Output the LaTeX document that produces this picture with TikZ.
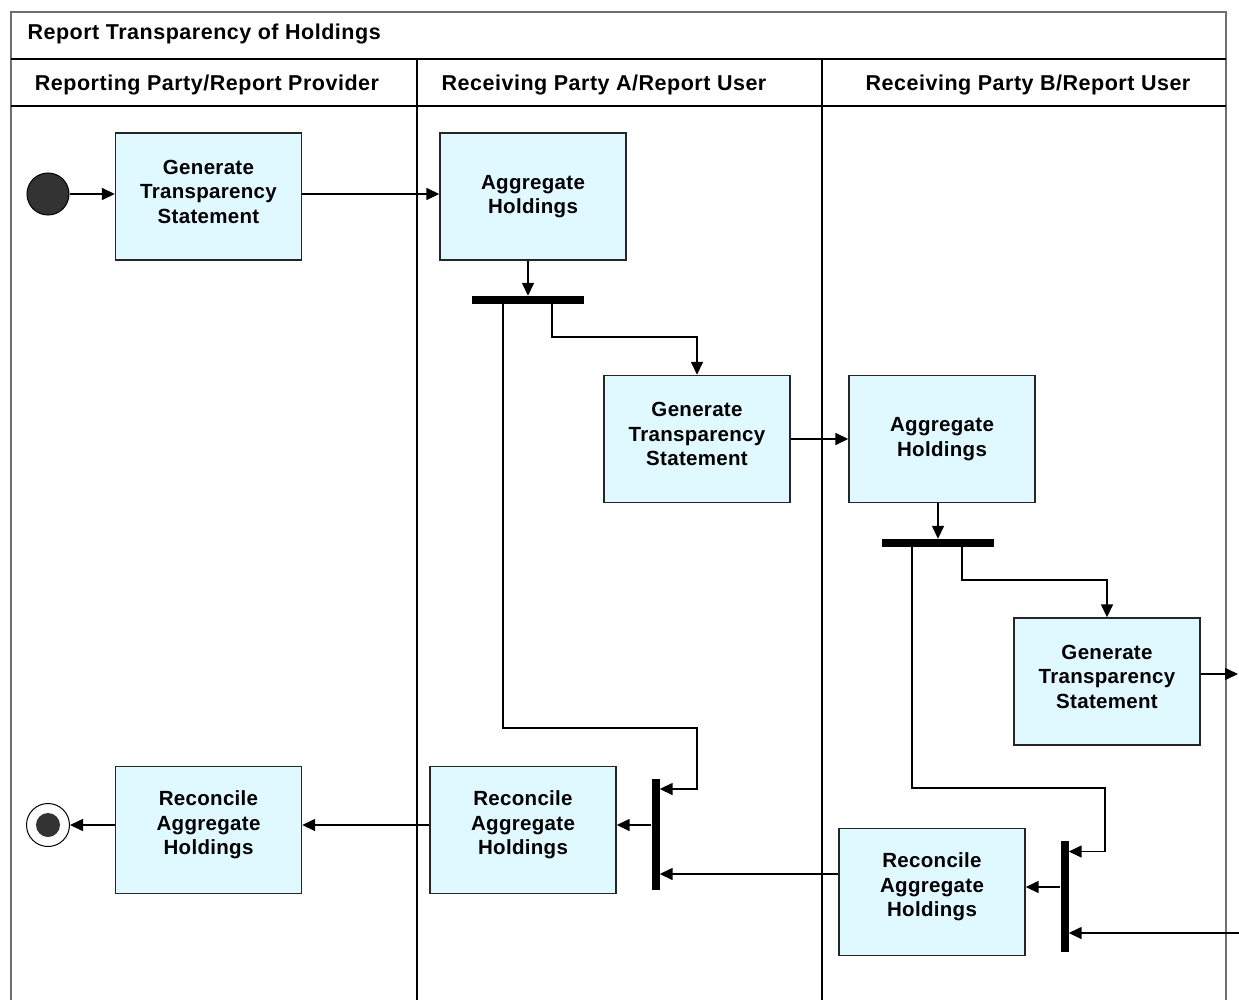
\documentclass[tikz,border=0pt]{standalone}
\usepackage{fontspec}
\setmainfont{Liberation Sans}
\newfontfamily\headfont{Liberation Sans}[LetterSpace=2.4]
\newfontfamily\actfont{Liberation Sans}[LetterSpace=1.5]
\usetikzlibrary{arrows.meta,calc}
\definecolor{actfill}{RGB}{224,248,255}
\definecolor{framegray}{RGB}{110,110,110}

\begin{document}
\begin{tikzpicture}[x=1pt,y=-1pt,>={Triangle[length=13pt,width=12pt]},
  action/.style={draw=black!85,line width=1.4pt,fill=actfill,inner sep=0pt,
    minimum width=186pt,minimum height=127pt,align=center,
    font=\actfont\fontsize{20.5}{24.5}\selectfont\bfseries},
  forkbar/.style={fill=black,inner sep=0pt,minimum width=112pt,minimum height=8pt},
  joinbar/.style={fill=black,inner sep=0pt,minimum width=8pt,minimum height=111pt},
  flow/.style={line width=1.5pt,->},
  lanehead/.style={font=\headfont\fontsize{21.5}{24}\selectfont\bfseries}]
  % Page size
  \useasboundingbox (0,0) rectangle (1239,1000);
  %
  % Frame and swimlanes
  \draw[framegray,line width=1.3pt] (11,1001) -- (11,12) -- (1226,12) -- (1226,1001);
  \draw[line width=1.3pt] (11,59) -- (1226,59);
  \draw[line width=1.3pt] (11,106) -- (1226,106);
  \draw[line width=1.3pt] (417,59) -- (417,1001);
  \draw[line width=1.3pt] (822,59) -- (822,1001);
  \node[lanehead,anchor=west] (title) at (24,34) {Report Transparency of Holdings};
  \node[lanehead] (laneA) at (207,85) {Reporting Party/Report Provider};
  \node[lanehead] (laneB) at (604,85) {Receiving Party A/Report User};
  \node[lanehead] (laneC) at (1028,85) {Receiving Party B/Report User};
  %
  % Initial and final nodes
  \node[circle,fill=black!80,draw=black,line width=1pt,minimum size=42pt,inner sep=0pt]
    (start) at (48,194) {};
  \node[circle,fill=white,draw=black,line width=1pt,minimum size=43pt,inner sep=0pt]
    (stop) at (48,825) {};
  \fill[black!80] (stop.center) circle [radius=12pt];
  %
  % Actions (text depth lifts the three-line texts a little)
  \node[action,text depth=10pt] (gtsA) at (208.5,196.5) {Generate\\Transparency\\Statement};
  \node[action] (ahA)  at (533,196.5) {Aggregate\\Holdings};
  \node[action,text depth=10pt] (gtsB) at (697,439) {Generate\\Transparency\\Statement};
  \node[action] (ahB)  at (942,439) {Aggregate\\Holdings};
  \node[action,text depth=10pt] (gtsC) at (1107,681.5) {Generate\\Transparency\\Statement};
  \node[action,text depth=14pt] (rahA) at (208.5,830) {Reconcile\\Aggregate\\Holdings};
  \node[action,text depth=14pt] (rahB) at (523,830) {Reconcile\\Aggregate\\Holdings};
  \node[action,text depth=14pt] (rahC) at (932,892) {Reconcile\\Aggregate\\Holdings};
  %
  % Fork and join bars
  \node[forkbar] (forkA) at (528,300) {};
  \node[forkbar] (forkB) at (938,543) {};
  \node[joinbar] (joinA) at (655.5,834) {};
  \node[joinbar] (joinB) at (1064.5,896.5) {};
  %
  % Loose ends at the right edge
  \coordinate (outC) at (1238,674);
  \coordinate (inC)  at (1239,933);
  %
  % Flows
  \draw[flow] (start) -- (gtsA.west |- start);
  \draw[flow] (gtsA.east |- start) -- (ahA.west |- start);
  \draw[flow] (ahA.south -| forkA) -- (forkA.north);
  \draw[flow] ([xshift=24pt]forkA.south) -- ++(0,33) -| (gtsB.north);
  \draw[flow] ([xshift=-25pt]forkA.south) -- ++(0,424) -- ++(194,0)
    |- ([yshift=45pt]joinA.east);
  \draw[flow] (gtsB) -- (ahB);
  \draw[flow] (ahB.south -| forkB) -- (forkB.north);
  \draw[flow] ([xshift=24pt]forkB.south) -- ++(0,33) -| (gtsC.north);
  \draw[flow] ([xshift=-26pt]forkB.south) -- ++(0,241) -- ++(193,0)
    |- ([yshift=45pt]joinB.east);
  \draw[flow] (gtsC.east |- outC) -- (outC);
  \draw[flow] (inC) -- (inC -| joinB.east);
  \draw[flow] ([yshift=5pt]rahC.east -| joinB.west) -- ([yshift=5pt]rahC.east);
  \draw[flow] ([yshift=18pt]rahC.west) -- ([yshift=18pt]rahC.west -| joinA.east);
  \draw[flow] ([yshift=5pt]rahB.east -| joinA.west) -- ([yshift=5pt]rahB.east);
  \draw[flow] ([yshift=5pt]rahB.west) -- ([yshift=5pt]rahA.east);
  \draw[flow] ([yshift=5pt]rahA.west) -- (stop);
  %
\end{tikzpicture}
\end{document}
